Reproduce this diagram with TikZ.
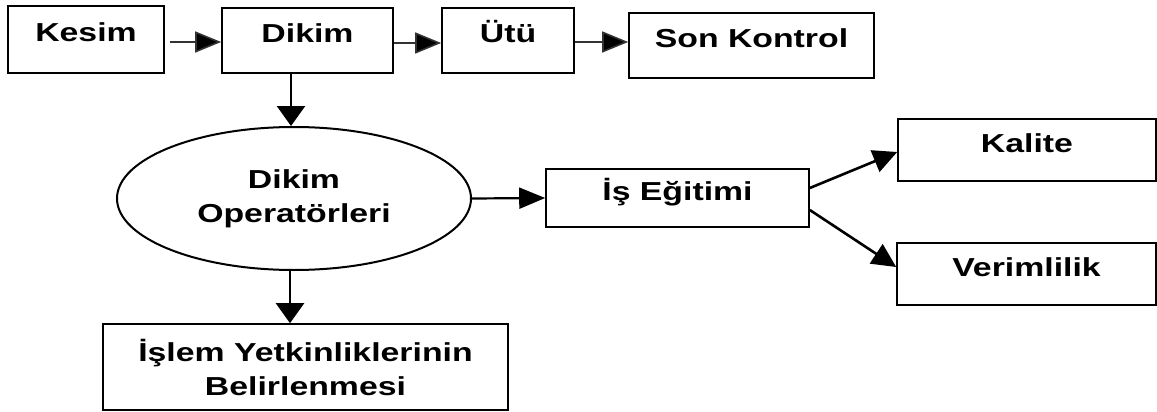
\documentclass[tikz,border=0pt]{standalone}
\usepackage{fontspec}
\setmainfont{Liberation Sans}[FakeStretch=1.3]
\usetikzlibrary{arrows.meta,shapes.geometric}
\begin{document}
\begin{tikzpicture}[x=1pt,y=-1pt,
  lbl/.style={font=\fontsize{26}{34}\selectfont\bfseries, align=center},
  box/.style={lbl, draw, line width=1.6pt, rectangle, inner sep=0pt, text height=12pt, text depth=8pt},
  oval/.style={lbl, draw, line width=2pt, ellipse, inner sep=0pt},
  harr/.style={line width=1.6pt, draw=black!80, -{Triangle[length=26pt,width=21pt,fill=black]}},
  varr/.style={line width=2.4pt, -{Triangle[length=20pt,width=28pt]}},
  darr/.style={line width=2.6pt, -{Triangle[length=24pt,width=23pt]}}]
\useasboundingbox (0,0) rectangle (1157,412);
\fill[white] (0,0) rectangle (1157,412);
% top row
\node[box, minimum width=156pt, minimum height=67pt] (kesim) at (86,39.5) {Kesim};
\node[box, minimum width=171pt, minimum height=65pt] (dikim) at (307.5,40.5) {Dikim};
\node[box, minimum width=132pt, minimum height=65pt] (utu) at (508,40.5) {Ütü};
\node[box, minimum width=245pt, minimum height=65pt] (son) at (751.5,45.5) {Son Kontrol};
% ellipse
\node[oval, minimum width=354pt, minimum height=143pt] (ell) at (294,198.5) {Dikim\\Operatörleri};
% right side
\node[box, minimum width=263pt, minimum height=58pt] (is) at (677.5,198) {İş Eğitimi};
\node[box, minimum width=258pt, minimum height=62pt] (kal) at (1027,150) {Kalite};
\node[box, minimum width=259pt, minimum height=62pt] (ver) at (1026.5,274) {Verimlilik};
% bottom
\node[lbl, draw, line width=1.6pt, rectangle, inner sep=0pt, minimum width=405pt, minimum height=86pt] (bot) at (305.5,367) {İşlem Yetkinliklerinin\\Belirlenmesi};
% connectors
\draw[harr] ([shift={(5,2.5)}]kesim.east) -- ([shift={(0,1.5)}]dikim.west);
\draw[harr] ([shift={(0,2.5)}]dikim.east) -- ([shift={(0,2.5)}]utu.west);
\draw[harr] ([shift={(0,1.5)}]utu.east) -- ([shift={(0,-3.5)}]son.west);
\draw[varr] (dikim.south -| 291,0) -- (ell.north -| 291,0);
\draw[varr] (ell.south -| 290,0) -- (bot.north -| 290,0);
\draw[harr, line width=2.2pt, draw=black] (ell.east) -- (is.west);
\draw[darr] ([shift={(0,-10)}]is.east) -- ([shift={(0,2)}]kal.west);
\draw[darr] ([shift={(0,12)}]is.east) -- ([shift={(0,-7)}]ver.west);
\end{tikzpicture}
\end{document}
